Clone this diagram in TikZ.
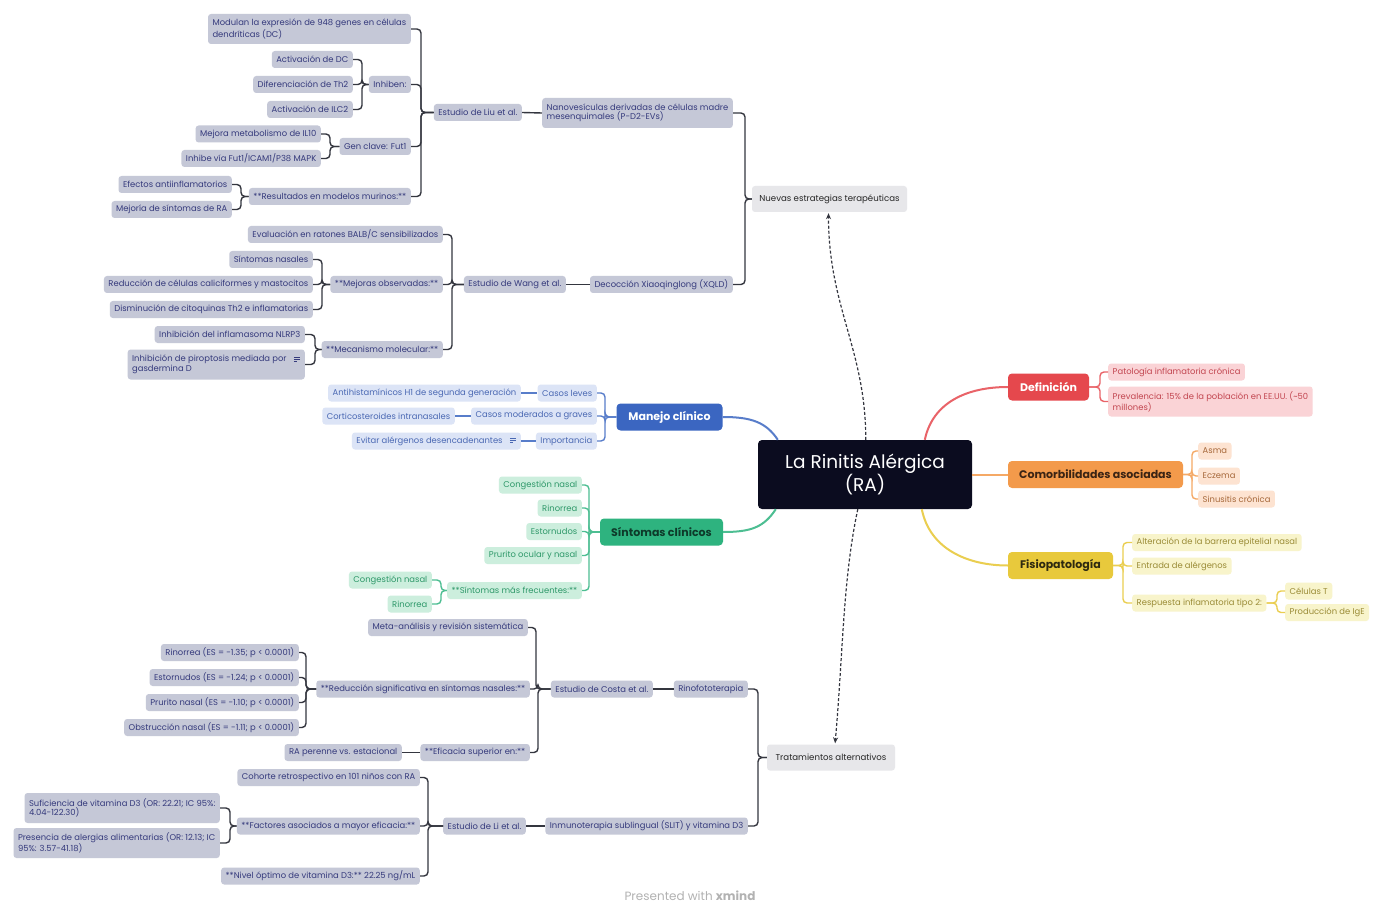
\documentclass[tikz,border=0pt]{standalone}
\usepackage{fontspec}
\setmainfont{Poppins}
\usetikzlibrary{arrows.meta}

\definecolor{inkdark}{HTML}{0B0C1F}
\definecolor{linkgray}{HTML}{34363F}
\definecolor{subfill}{HTML}{C5C8D7}
\definecolor{subtext}{HTML}{353A7C}
\definecolor{topicfill}{HTML}{E7E7EA}
\definecolor{bluemain}{HTML}{3B66C1}
\definecolor{bluefill}{HTML}{DCE4F6}
\definecolor{bluetext}{HTML}{4A68B3}
\definecolor{greenmain}{HTML}{2EB37F}
\definecolor{greenfill}{HTML}{CCEEDD}
\definecolor{greentext}{HTML}{2E9869}
\definecolor{greendark}{HTML}{0E3A2A}
\definecolor{redmain}{HTML}{E5484D}
\definecolor{redfill}{HTML}{FAD3D6}
\definecolor{redtext}{HTML}{C24650}
\definecolor{orangemain}{HTML}{F39A4B}
\definecolor{orangefill}{HTML}{FDE3D1}
\definecolor{orangetext}{HTML}{A6683A}
\definecolor{orangedark}{HTML}{3B2414}
\definecolor{yellowmain}{HTML}{E8C93C}
\definecolor{yellowfill}{HTML}{F8F4CB}
\definecolor{yellowtext}{HTML}{9A8B36}
\definecolor{yellowdark}{HTML}{2E2A10}

\newcommand{\noteicon}{\hspace{7pt}\tikz[baseline=0pt,x=1pt,y=1pt]{\draw[line width=0.7pt] (0,5)--(6,5) (0,2.8)--(6,2.8) (0,0.6)--(3.5,0.6);}}

\begin{document}
\begin{tikzpicture}[x=1pt, y=-1pt,
    box/.style={rounded corners=3pt, inner xsep=4.5pt, inner ysep=2pt, minimum height=17pt,
      font=\fontsize{8.4}{9.6}\selectfont},
    sub/.style={box, fill=subfill, text=subtext},
    twoline/.style={align=left, minimum height=30pt},
    topic/.style={box, fill=topicfill, text=black!85, minimum height=26pt,
      font=\fontsize{8.6}{10}\selectfont},
    bleaf/.style={box, fill=bluefill, text=bluetext},
    gleaf/.style={box, fill=greenfill, text=greentext},
    rleaf/.style={box, fill=redfill, text=redtext},
    oleaf/.style={box, fill=orangefill, text=orangetext},
    yleaf/.style={box, fill=yellowfill, text=yellowtext},
    branch/.style={rounded corners=4pt, minimum height=27pt, inner xsep=6pt,
      font=\fontsize{11}{13}\selectfont\bfseries},
    central/.style={fill=inkdark, text=white, rounded corners=4pt, align=center,
      minimum width=214pt, minimum height=69pt, font=\fontsize{18.5}{22}\selectfont},
    link/.style={draw=linkgray, line width=1.4pt, rounded corners=4pt},
    blink/.style={link, draw=bluemain!85},
    glink/.style={link, draw=greenmain!85},
    rlink/.style={link, draw=redmain!85},
    olink/.style={link, draw=orangemain!85},
    ylink/.style={link, draw=yellowmain!90},
    mainlink/.style={line width=2pt},
    dasharrow/.style={draw=linkgray, line width=1.2pt, dash pattern=on 3pt off 2pt,
      -{Stealth[length=6pt,width=5pt]}, shorten >=1pt}
  ]
  \useasboundingbox[fill=white] (0,0) rectangle (1377,904);

  % Central topic
  \node[central] (ra) at (865,474.5) {La Rinitis Alérgica\\(RA)};

  % Right main branches
  \node[branch, fill=redmain, text=white, minimum width=81pt] (defin) at (1048.5,387) {Definición};
  \node[branch, fill=orangemain, text=orangedark, minimum width=175pt] (comor) at (1095.5,474.5) {Comorbilidades asociadas};
  \node[branch, fill=yellowmain, text=yellowdark, minimum width=105pt] (fisio) at (1060.5,565.5) {Fisiopatología};

  % Left main branches
  \node[branch, fill=bluemain, text=white, minimum width=106pt] (manejo) at (669.5,417) {Manejo clínico};
  \node[branch, fill=greenmain, text=greendark, minimum width=123pt] (sintomas) at (661.5,532) {Síntomas clínicos};

  % Floating topics
  \node[topic, minimum width=155pt] (nuevas) at (829.5,199) {Nuevas estrategias terapéuticas};
  \node[topic, minimum width=128pt] (trat) at (831,757.5) {Tratamientos alternativos};

  % Definicion
  \node[rleaf, anchor=west] (pato) at (1108,372) {Patología inflamatoria crónica};
  \node[rleaf, twoline, anchor=west] (preval) at (1108,401.5) {Prevalencia: 15\% de la población en EE.UU. (\textasciitilde 50\\millones)};

  % Comorbilidades
  \node[oleaf, anchor=west] (asma) at (1198,451) {Asma};
  \node[oleaf, anchor=west] (eczema) at (1198,476) {Eczema};
  \node[oleaf, anchor=west] (sinus) at (1198,499) {Sinusitis crónica};

  % Fisiopatologia
  \node[yleaf, anchor=west] (alter) at (1132,542.5) {Alteración de la barrera epitelial nasal};
  \node[yleaf, anchor=west] (entrada) at (1132,566) {Entrada de alérgenos};
  \node[yleaf, anchor=west] (resp) at (1132,603) {Respuesta inflamatoria tipo 2:};
  \node[yleaf, anchor=west] (celt) at (1285,591) {Células T};
  \node[yleaf, anchor=west] (ige) at (1285,612.5) {Producción de IgE};

  % Manejo clinico
  \node[bleaf, anchor=east] (leves) at (597,393) {Casos leves};
  \node[bleaf, anchor=east] (moder) at (597,416) {Casos moderados a graves};
  \node[bleaf, anchor=east] (import) at (597,441) {Importancia};
  \node[bleaf, anchor=east] (antih) at (521,393) {Antihistamínicos H1 de segunda generación};
  \node[bleaf, anchor=east] (cortic) at (455,416) {Corticosteroides intranasales};
  \node[bleaf, anchor=east] (evitar) at (521,441) {Evitar alérgenos desencadenantes\noteicon};

  % Sintomas clinicos
  \node[gleaf, anchor=east] (cong) at (582,485) {Congestión nasal};
  \node[gleaf, anchor=east] (rino) at (582,508) {Rinorrea};
  \node[gleaf, anchor=east] (estor) at (582,531.5) {Estornudos};
  \node[gleaf, anchor=east] (prur) at (582,555.5) {Prurito ocular y nasal};
  \node[gleaf, anchor=east] (frec) at (582,590.5) {**Síntomas más frecuentes:**};
  \node[gleaf, anchor=east] (congb) at (432,580) {Congestión nasal};
  \node[gleaf, anchor=east] (rinob) at (432,604) {Rinorrea};

  % Nuevas estrategias: nanovesiculas
  \node[sub, twoline, anchor=east] (nano) at (733,113) {Nanovesículas derivadas de células madre\\mesenquimales (P-D2-EVs)};
  \node[sub, anchor=east] (liu) at (522,112.5) {Estudio de Liu et al.};
  \node[sub, twoline, anchor=east] (modulan) at (411,29) {Modulan la expresión de 948 genes en células\\dendríticas (DC)};
  \node[sub, anchor=east] (inhiben) at (411,84.5) {Inhiben:};
  \node[sub, anchor=east] (fut) at (411,146.5) {Gen clave: Fut1};
  \node[sub, anchor=east] (murinos) at (411,196.5) {**Resultados en modelos murinos:**};
  \node[sub, anchor=east] (actdc) at (353,59.5) {Activación de DC};
  \node[sub, anchor=east] (th) at (353,84.5) {Diferenciación de Th2};
  \node[sub, anchor=east] (ilc) at (353,109.5) {Activación de ILC2};
  \node[sub, anchor=east] (ilten) at (321,134) {Mejora metabolismo de IL10};
  \node[sub, anchor=east] (icam) at (321,158.5) {Inhibe vía Fut1/ICAM1/P38 MAPK};
  \node[sub, anchor=east] (antiinf) at (232,184.5) {Efectos antiinflamatorios};
  \node[sub, anchor=east] (mejoria) at (232,209.5) {Mejoría de síntomas de RA};

  % Nuevas estrategias: XQLD
  \node[sub, anchor=east] (xqld) at (733,284.5) {Decocción Xiaoqinglong (XQLD)};
  \node[sub, anchor=east] (wang) at (566,284.5) {Estudio de Wang et al.};
  \node[sub, anchor=east] (balb) at (443,234.5) {Evaluación en ratones BALB/C sensibilizados};
  \node[sub, anchor=east] (mejoras) at (443,284.5) {**Mejoras observadas:**};
  \node[sub, anchor=east] (mecan) at (443,349.5) {**Mecanismo molecular:**};
  \node[sub, anchor=east] (sintnas) at (313,259.5) {Síntomas nasales};
  \node[sub, anchor=east] (calic) at (313,284.5) {Reducción de células caliciformes y mastocitos};
  \node[sub, anchor=east] (citoq) at (313,309.5) {Disminución de citoquinas Th2 e inflamatorias};
  \node[sub, anchor=east] (nlrp) at (305,334.5) {Inhibición del inflamasoma NLRP3};
  \node[sub, twoline, anchor=east] (pirop) at (305,364.5) {Inhibición de piroptosis mediada por\noteicon\\gasdermina D};

  % Tratamientos: rinofototerapia
  \node[sub, anchor=east] (rinofo) at (748,689) {Rinofototerapia};
  \node[sub, anchor=east] (costa) at (653,689) {Estudio de Costa et al.};
  \node[sub, anchor=east] (meta) at (528,627.5) {Meta-análisis y revisión sistemática};
  \node[sub, anchor=east] (reduc) at (530,689) {**Reducción significativa en síntomas nasales:**};
  \node[sub, anchor=east] (efic) at (530,752.5) {**Eficacia superior en:**};
  \node[sub, anchor=east] (rinoc) at (299,652.5) {Rinorrea (ES = -1.35; p < 0.0001)};
  \node[sub, anchor=east] (estorc) at (299,677.5) {Estornudos (ES = -1.24; p < 0.0001)};
  \node[sub, anchor=east] (prurc) at (299,702.5) {Prurito nasal (ES = -1.10; p < 0.0001)};
  \node[sub, anchor=east] (obstr) at (299,727.5) {Obstrucción nasal (ES = -1.11; p < 0.0001)};
  \node[sub, anchor=east] (peren) at (402,752.5) {RA perenne vs. estacional};

  % Tratamientos: SLIT
  \node[sub, anchor=east] (inmuno) at (748,826) {Inmunoterapia sublingual (SLIT) y vitamina D3};
  \node[sub, anchor=east] (li) at (526,826) {Estudio de Li et al.};
  \node[sub, anchor=east] (cohorte) at (420,777.5) {Cohorte retrospectivo en 101 niños con RA};
  \node[sub, anchor=east] (factores) at (420,826) {**Factores asociados a mayor eficacia:**};
  \node[sub, anchor=east] (nivel) at (420,876) {**Nivel óptimo de vitamina D3:** 22.25 ng/mL};
  \node[sub, twoline, anchor=east] (sufic) at (220,808) {Suficiencia de vitamina D3 (OR: 22.21; IC 95\%:\\4.04-122.30)};
  \node[sub, twoline, anchor=east] (presen) at (220,843) {Presencia de alergias alimentarias (OR: 12.13; IC\\95\%: 3.57-41.18)};

  % Footer
  \node[text=black!30, font=\fontsize{12}{14}\selectfont] (footer) at (690,896) {Presented with \textbf{xmind}};

  % Links from the central topic
  \draw[rlink, mainlink] ([xshift=167pt]ra.north west) .. controls +(8,-38) and +(-40,0) .. (defin.west);
  \draw[olink, mainlink] (ra.east) -- (comor.west);
  \draw[ylink, mainlink] ([xshift=164pt]ra.south west) .. controls +(8,40) and +(-40,0) .. (fisio.west);
  \draw[blink, mainlink] ([xshift=20pt]ra.north west) .. controls +(-12,-18) and +(28,0) .. (manejo.east);
  \draw[glink, mainlink] ([xshift=18pt]ra.south west) .. controls +(-12,18) and +(28,0) .. (sintomas.east);
  \draw[dasharrow] ([xshift=108pt]ra.north west) .. controls +(0,-90) and +(0,95) .. ([xshift=-1pt]nuevas.south);
  \draw[dasharrow] ([xshift=100pt]ra.south west) .. controls +(-15,70) and +(8,-90) .. ([xshift=4pt]trat.north);

  % Right brackets
  \foreach \c in {pato,preval} \draw[rlink] (\c.west) -- ++(-8,0) |- (defin.east);
  \foreach \c in {asma,eczema,sinus} \draw[olink] (\c.west) -- ++(-6,0) |- (comor.east);
  \foreach \c in {alter,entrada,resp} \draw[ylink] (\c.west) -- ++(-9,0) |- (fisio.east);
  \foreach \c in {celt,ige} \draw[ylink] (\c.west) -- ++(-8,0) |- (resp.east);

  % Left brackets
  \foreach \c in {leves,moder,import} \draw[blink] (\c.east) -- ++(8,0) |- (manejo.west);
  \draw[blink] (antih.east) -- (leves.west);
  \draw[blink] (cortic.east) -- (moder.west);
  \draw[blink] (evitar.east) -- (import.west);
  \foreach \c in {cong,rino,estor,prur,frec} \draw[glink] (\c.east) -- ++(7,0) |- (sintomas.west);
  \foreach \c in {congb,rinob} \draw[glink] (\c.east) -- ++(9,0) |- (frec.west);

  % Nuevas estrategias
  \foreach \c in {nano,xqld} \draw[link] (\c.east) -- ++(12,0) |- (nuevas.west);
  \draw[link] (liu.east) -- (nano.west);
  \foreach \c in {modulan,inhiben,fut,murinos} \draw[link] (\c.east) -- ++(10,0) |- (liu.west);
  \foreach \c in {actdc,th,ilc} \draw[link] (\c.east) -- ++(9,0) |- (inhiben.west);
  \foreach \c in {ilten,icam} \draw[link] (\c.east) -- ++(9,0) |- (fut.west);
  \foreach \c in {antiinf,mejoria} \draw[link] (\c.east) -- ++(9,0) |- (murinos.west);
  \draw[link] (wang.east) -- (xqld.west);
  \foreach \c in {balb,mejoras,mecan} \draw[link] (\c.east) -- ++(9,0) |- (wang.west);
  \foreach \c in {sintnas,calic,citoq} \draw[link] (\c.east) -- ++(9,0) |- (mejoras.west);
  \foreach \c in {nlrp,pirop} \draw[link] (\c.east) -- ++(10,0) |- (mecan.west);

  % Tratamientos alternativos
  \foreach \c in {rinofo,inmuno} \draw[link] (\c.east) -- ++(10,0) |- (trat.west);
  \draw[link] (costa.east) -- (rinofo.west);
  \foreach \c in {meta,reduc,efic} \draw[link] (\c.east) -- ++(8,0) |- (costa.west);
  \foreach \c in {rinoc,estorc,prurc,obstr} \draw[link] (\c.east) -- ++(7,0) |- (reduc.west);
  \draw[link] (peren.east) -- (efic.west);
  \draw[link] (li.east) -- (inmuno.west);
  \foreach \c in {cohorte,factores,nivel} \draw[link] (\c.east) -- ++(8,0) |- (li.west);
  \foreach \c in {sufic,presen} \draw[link] (\c.east) -- ++(10,0) |- (factores.west);
\end{tikzpicture}
\end{document}
